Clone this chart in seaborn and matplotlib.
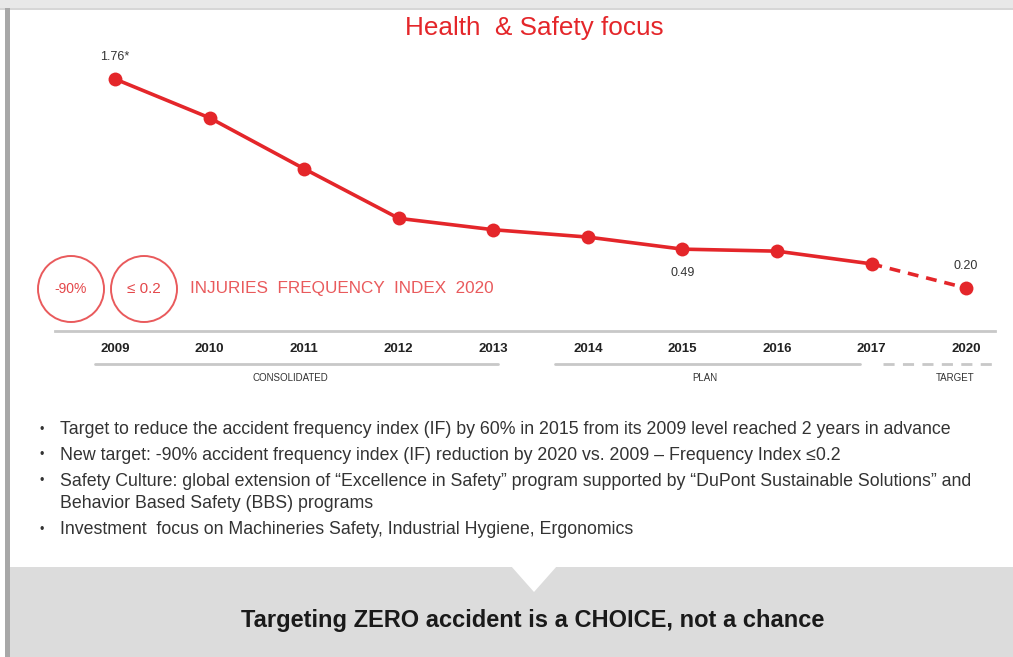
#%%
# import packages
import pandas as pd
import matplotlib.pyplot as plt
import seaborn as sns
from matplotlib.patches import Ellipse, Polygon, Rectangle

# data
years = ['2009', '2010', '2011', '2012', '2013', '2014', '2015', '2016', '2017', '2020']
freq_index = [1.76, 1.47, 1.09, 0.72, 0.635, 0.58, 0.49, 0.475, 0.38, 0.20]
value_labels = {'2009': '1.76*', '2015': '0.49', '2020': '0.20'}
groups = ['CONSOLIDATED', 'PLAN', 'TARGET']
bullets = [
    'Target to reduce the accident frequency index (IF) by 60% in 2015 from its 2009 level reached 2 years in advance',
    'New target: -90% accident frequency index (IF) reduction by 2020 vs. 2009 \u2013 Frequency Index \u22640.2',
    'Safety Culture: global extension of \u201cExcellence in Safety\u201d program supported by \u201cDuPont Sustainable Solutions\u201d and\nBehavior Based Safety (BBS) programs',
    'Investment  focus on Machineries Safety, Industrial Hygiene, Ergonomics',
]

df = pd.DataFrame({'year': years, 'value': freq_index})
df['pos'] = range(len(df))
actual = df[df['year'] <= '2017']
target = df[df['year'] >= '2017']

#%%
sns.set_theme(style='white')
plt.rcParams['font.family'] = ['Liberation Sans', 'DejaVu Sans']

RED = '#e4262a'
W, H = 1013, 657
fig = plt.figure(figsize=(W / 100, H / 100), dpi=100)

# background / decorations in pixel coordinates
bg = fig.add_axes([0, 0, 1, 1])
bg.set_xlim(0, W)
bg.set_ylim(H, 0)
bg.axis('off')
bg.add_patch(Rectangle((0, 0), W, 8, color='#e8e8e8', lw=0))
bg.add_patch(Rectangle((0, 8), W, 2, color='#d6d6d6', lw=0))
bg.add_patch(Rectangle((5, 8), 5, H, color='#a8a8a8', lw=0))
bg.add_patch(Rectangle((10, 567), W, 90, color='#dcdcdc', lw=0))
bg.add_patch(Polygon([(511, 566), (557, 566), (534, 592)], closed=True, color='white', lw=0))

bg.text(534, 28, 'Health  & Safety focus', color=RED, fontsize=18.8, ha='center', va='center')

# circles and headline
for cx, txt, fs in [(71, '-90%', 10), (144, '\u2264 0.2', 11)]:
    bg.add_patch(Ellipse((cx, 289), 66, 66, fill=False, ec='#e95a5c', lw=1.4))
    bg.text(cx, 289, txt, color='#e4474a', fontsize=fs, ha='center', va='center')
bg.text(190, 289, 'INJURIES  FREQUENCY  INDEX  2020', color='#e95a5c', fontsize=12.3,
        ha='left', va='center')

# group brackets
bg.plot([95, 498], [364, 364], color='#c8c8c8', lw=2)
bg.plot([555, 860], [364, 364], color='#c8c8c8', lw=2)
bg.plot([883, 993], [364, 364], color='#c8c8c8', lw=2, ls=(0, (4, 3)))
for x, g in zip([290, 705, 955], groups):
    bg.text(x, 378, g, fontsize=7, color='#333333', ha='center', va='center')

# bullets
ys = [430, 455, 481, 530]
for y, b in zip(ys, bullets):
    bg.text(40, y, '\u2022', fontsize=9, color='#333333', va='center')
    for k, line in enumerate(b.split('\n')):
        bg.text(60, y + 22 * k, line, fontsize=12.8, color='#333333', va='center')

bg.text(533, 621, 'Targeting ZERO accident is a CHOICE, not a chance', fontsize=17,
        fontweight='bold', color='#1a1a1a', ha='center', va='center')

#%%
# chart axes, bottom spine is the grey baseline
ax = fig.add_axes([55 / W, (H - 331) / H, 940 / W, 286 / H])
ax.patch.set_alpha(0)
sns.lineplot(data=actual, x='pos', y='value', color=RED, lw=2.6, marker='o',
             markersize=10, markeredgewidth=0, ax=ax)
sns.lineplot(data=target, x='pos', y='value', color=RED, lw=2.6, ls=(0, (3, 2.2)), ax=ax)
sns.scatterplot(data=target.tail(1), x='pos', y='value', color=RED, s=100, lw=0, ax=ax)

for _, r in df.iterrows():
    if r['year'] in value_labels:
        off = -17 if r['year'] == '2015' else 16
        ax.annotate(value_labels[r['year']], (r['pos'], r['value']), textcoords='offset points',
                    xytext=(0, off), ha='center', va='center', fontsize=9, color='#333333')

ax.set_xlim(-0.6345, 9.306)
ax.set_ylim(-0.121, 2.0137)
ax.set_xticks(df['pos'])
ax.set_xticklabels(df['year'], fontsize=9.5, fontweight='bold', color='#222222')
ax.set_yticks([])
ax.set_xlabel('')
ax.set_ylabel('')
ax.tick_params(axis='x', length=0, pad=9)
for s in ['top', 'left', 'right']:
    ax.spines[s].set_visible(False)
ax.spines['bottom'].set_color('#c8c8c8')
ax.spines['bottom'].set_linewidth(2)

fig.savefig('out.png', dpi=100)
